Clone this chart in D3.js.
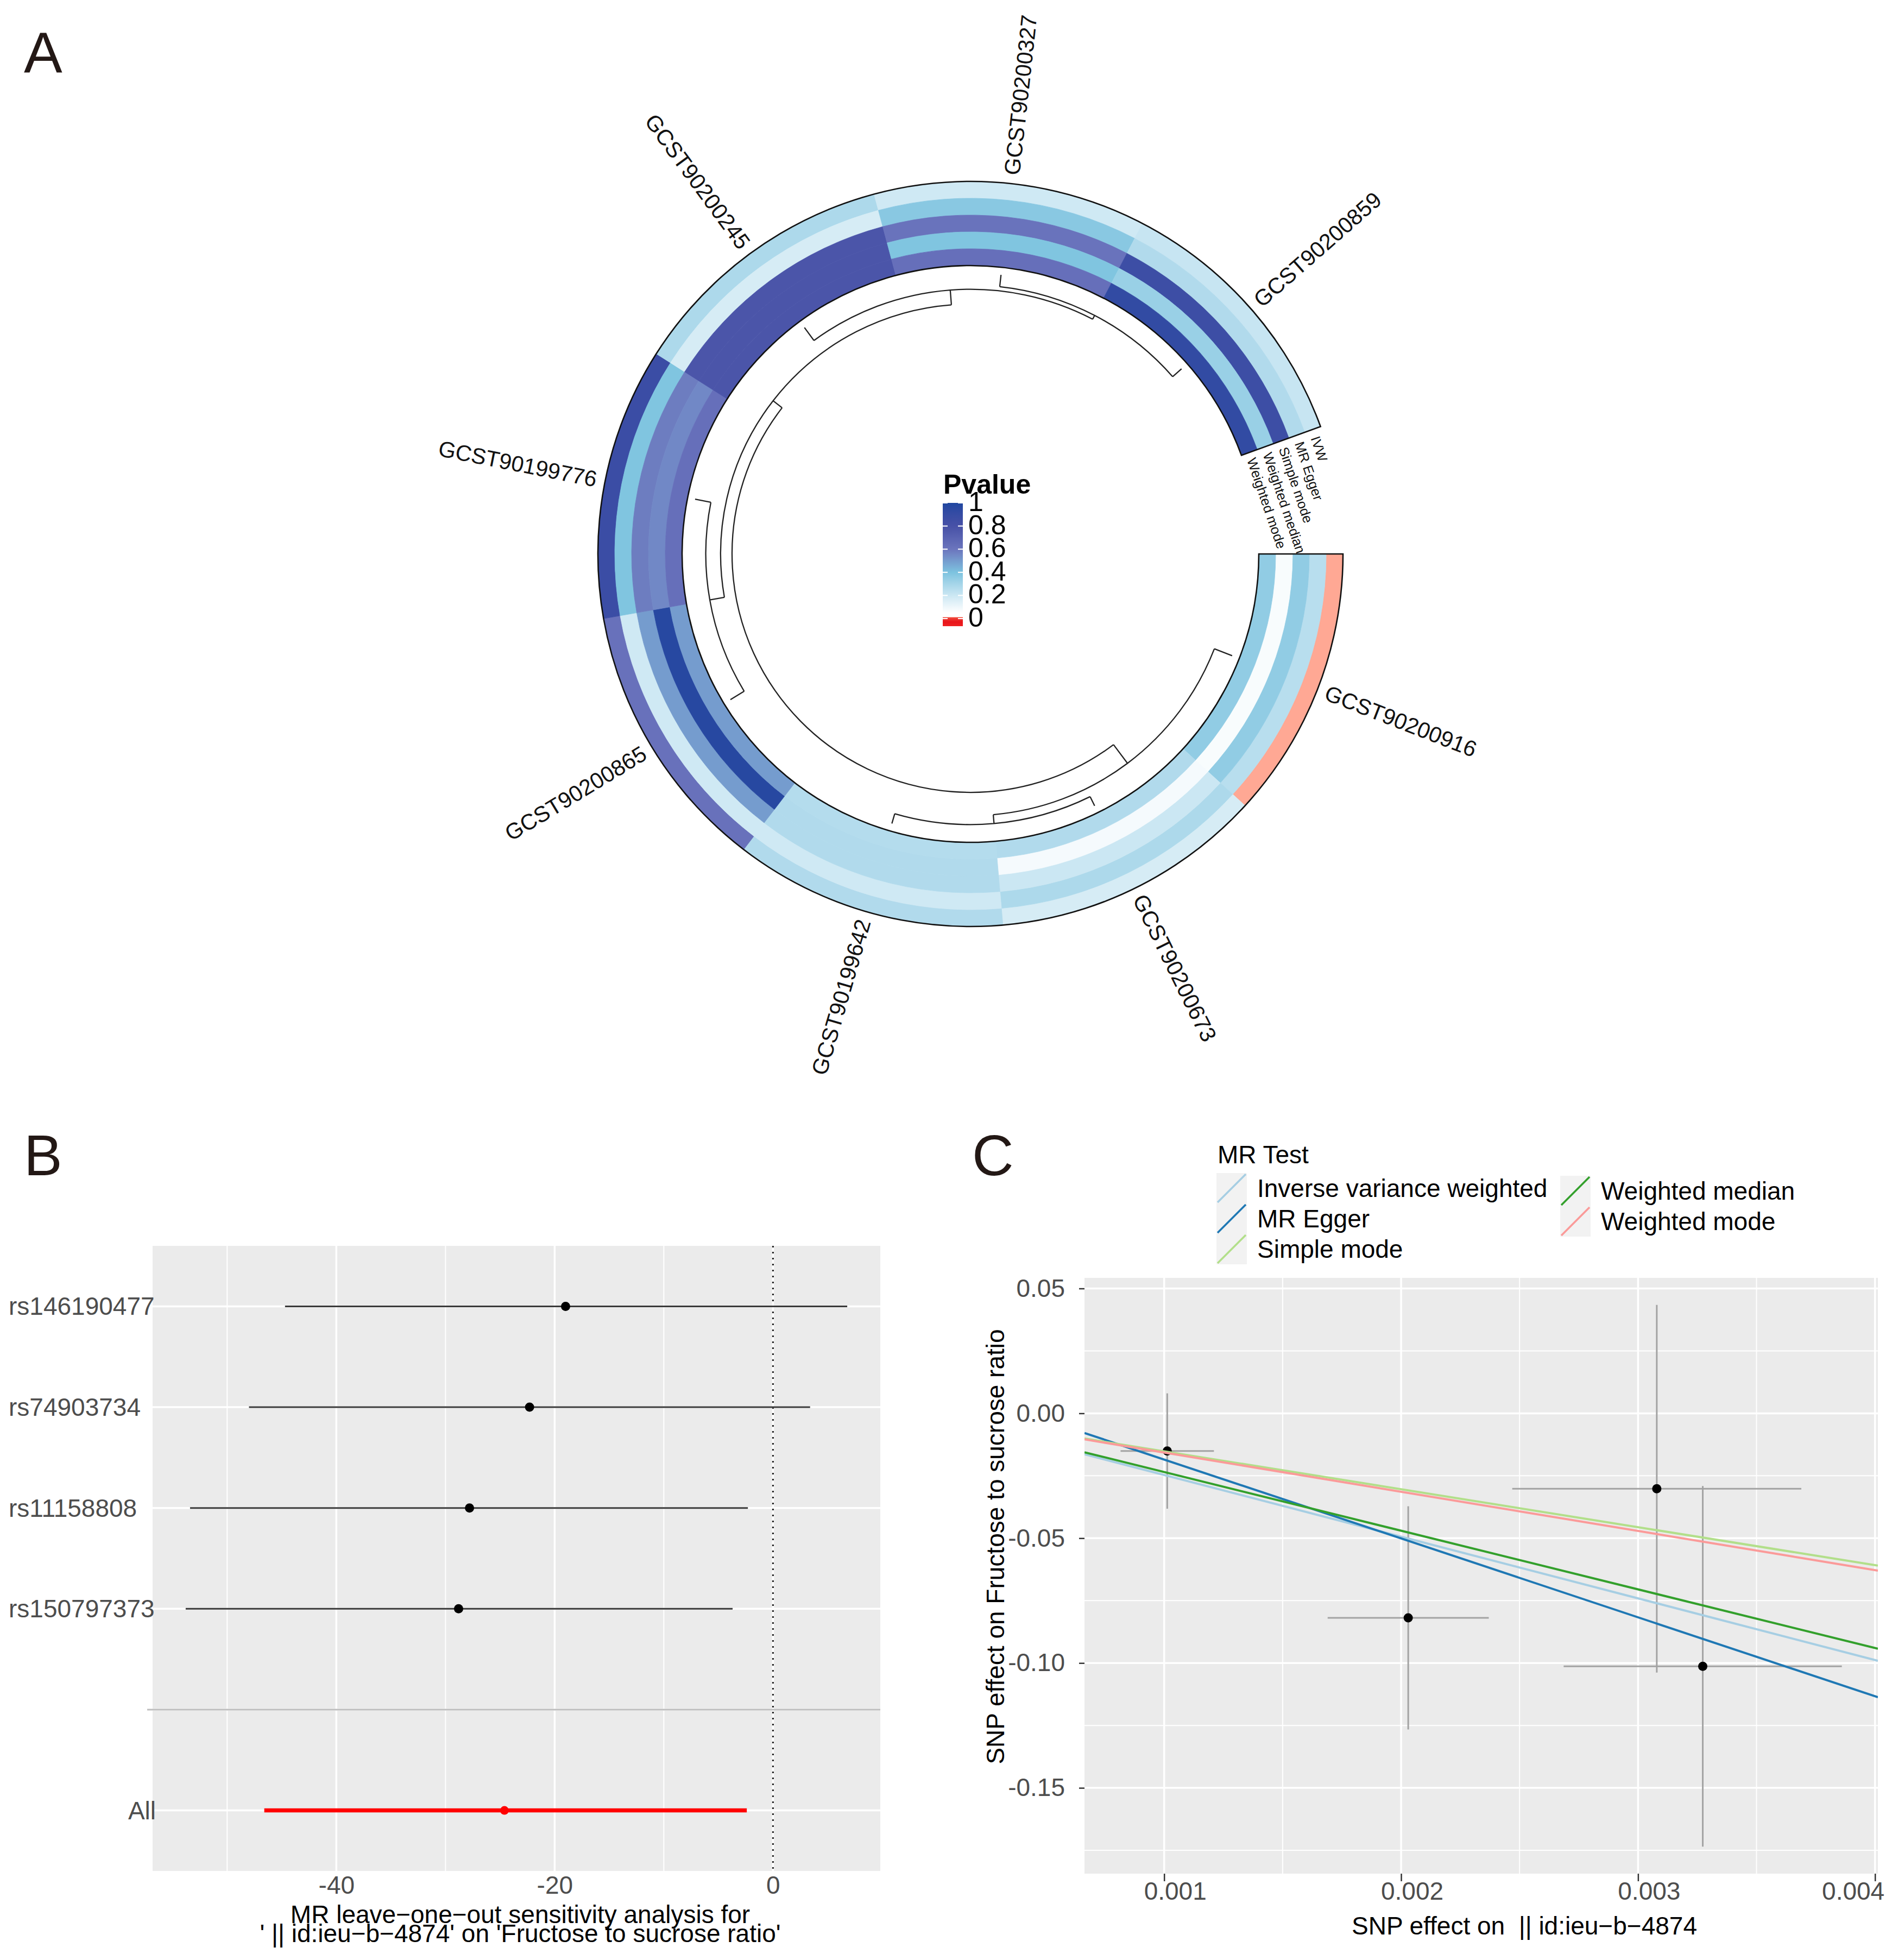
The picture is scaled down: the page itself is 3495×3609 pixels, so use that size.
<!DOCTYPE html>
<html>
<head>
<meta charset="utf-8">
<script src="https://cdn.jsdelivr.net/npm/d3@7"></script>
<style>
  html, body { margin: 0; padding: 0; background: #ffffff; }
  svg { display: block; }
  text { font-family: "Liberation Sans", Arial, Helvetica, sans-serif; }
</style>
</head>
<body>
<svg id="fig" width="3495" height="3609"></svg>
<script>
// ======================= DATA =======================
// Panel A : circular heatmap of MR p-values
const gwasIds  = ["GCST90200916","GCST90200673","GCST90199642","GCST90200865",
                  "GCST90199776","GCST90200245","GCST90200327","GCST90200859"];
const methods  = ["IVW","MR Egger","Simple mode","Weighted median","Weighted mode"];
const pIVW     = [0.027, 0.17, 0.27, 0.62, 0.87, 0.28, 0.19, 0.21];
const pEgger   = [0.25, 0.28, 0.19, 0.19, 0.39, 0.17, 0.37, 0.27];
const pSimple  = [0.35, 0.20, 0.27, 0.50, 0.58, 0.78, 0.61, 0.86];
const pWMedian = [0.07, 0.08, 0.27, 0.97, 0.55, 0.78, 0.39, 0.33];
const pWMode   = [0.35, 0.27, 0.26, 0.50, 0.63, 0.78, 0.63, 0.92];
// hclust-style merge table (negative = leaf index in gwasIds, 1-based; positive = earlier merge row)
const dendroMerge  = [[-2,-3],[-7,-8],[-6,2],[-4,-5],[-1,1],[4,3],[5,6]];
const dendroHeight = [0.24, 0.28, 0.38, 0.38, 0.45, 0.73, 1.00];
const pLegendBreaks = [0, 0.2, 0.4, 0.6, 0.8, 1];

// Panel B : leave-one-out
const looSNP = ["rs146190477","rs74903734","rs11158808","rs150797373","","All"];
const looEst = [-19.0, -22.3, -27.8, -28.8, null, -24.6];
const looLow = [-44.7, -48.0, -53.4, -53.8, null, -46.6];
const looUp  = [  6.8,   3.4,  -2.3,  -3.7, null,  -2.4];
const looTicks = [-40, -20, 0];
const looMinor = [-50, -30, -10];

// Panel C : scatter plot
const snpBetaExp = [0.001013, 0.00203, 0.003079, 0.003273];
const snpSeExp   = [0.000197, 0.00034, 0.00061, 0.000587];
const snpBetaOut = [-0.0151, -0.0819, -0.0302, -0.1013];
const snpSeOut   = [0.0231, 0.0447, 0.0736, 0.0722];
const mrMethods   = ["Inverse variance weighted","MR Egger","Simple mode","Weighted median","Weighted mode"];
const mrSlope     = [-24.7, -31.6, -15.2, -23.5, -15.7];
const mrIntercept = [0, 0.0131, 0, 0, 0];
const scXTicks = [0.001, 0.002, 0.003, 0.004];
const scXMinor = [0.0015, 0.0025, 0.0035];
const scYTicks = [0.05, 0.00, -0.05, -0.10, -0.15];
const scYMinor = [0.025, -0.025, -0.075, -0.125, -0.175];

// ======================= DRAW =======================
const svg = d3.select("#fig");
svg.append("rect").attr("width", 3495).attr("height", 3609).attr("fill", "#ffffff");
const FONT = "\"Liberation Sans\", Arial, Helvetica, sans-serif";
const hyph = f => d => f(d).replace("\u2212", "-");

// panel letters
[["A", 44, 133], ["B", 44, 2164], ["C", 1790, 2164]].forEach(([t, x, y]) => {
  svg.append("text").attr("x", x).attr("y", y).attr("font-size", 106)
     .attr("fill", "#231815").text(t);
});

// ---------------- Panel A ----------------
(function panelA() {
  const cx = 1787, cy = 1020;
  const g = svg.append("g").attr("transform", `translate(${cx},${cy})`);
  const rad = d => d * Math.PI / 180;

  const pMatrix = { "IVW": pIVW, "MR Egger": pEgger, "Simple mode": pSimple,
                    "Weighted median": pWMedian, "Weighted mode": pWMode };

  const pColor = d3.scaleLinear()
    .domain([0, 0.05, 0.2, 0.4, 0.6, 0.8, 1])
    .range(["#ee2222", "#ffffff", "#cbe7f3", "#7cc3df", "#6b75bd", "#4751a7", "#1f47a0"])
    .interpolate(d3.interpolateLab).clamp(true);

  // sector (angle, degrees clockwise from 3 o'clock) and ring (radius) scales
  const sector = d3.scaleBand().domain(gwasIds).range([0, 340]);
  const ring = d3.scaleBand().domain(methods).range([686, 531]);
  const arc = d3.arc();

  const cells = [];
  methods.forEach(m => gwasIds.forEach((id, i) => cells.push({ m, id, p: pMatrix[m][i] })));
  g.selectAll("path.cell").data(cells).enter().append("path")
    .attr("class", "cell")
    .attr("d", d => arc({
      innerRadius: ring(d.m), outerRadius: ring(d.m) + ring.bandwidth(),
      startAngle: rad(sector(d.id) + 90), endAngle: rad(sector(d.id) + sector.bandwidth() + 90)
    }))
    .attr("fill", d => pColor(d.p))
    .attr("stroke", d => pColor(d.p)).attr("stroke-width", 0.8);

  // outline of the whole track
  g.append("path")
    .attr("d", arc({ innerRadius: 531, outerRadius: 686, startAngle: rad(90), endAngle: rad(430) }))
    .attr("fill", "none").attr("stroke", "#111").attr("stroke-width", 2.6);

  // sector labels
  gwasIds.forEach(id => {
    const a = sector(id) + sector.bandwidth() / 2;
    const r = 702;
    const x = r * Math.cos(rad(a)), y = r * Math.sin(rad(a));
    const right = Math.cos(rad(a)) >= 0;
    g.append("text")
      .attr("transform", `translate(${x},${y}) rotate(${right ? a : a + 180})`)
      .attr("text-anchor", right ? "start" : "end")
      .attr("dominant-baseline", "central")
      .attr("font-size", 41).attr("fill", "#111").text(id);
  });

  // track (method) labels at the end of the circle
  methods.forEach(m => {
    const r = ring(m) + ring.bandwidth() / 2;
    const a = 341.2;
    const x = r * Math.cos(rad(a)), y = r * Math.sin(rad(a));
    g.append("text")
      .attr("transform", `translate(${x},${y}) rotate(${a + 90})`)
      .attr("text-anchor", "start").attr("dominant-baseline", "central")
      .attr("font-size", 25).attr("fill", "#111").text(m);
  });

  // dendrogram
  const rH = d3.scaleLinear().domain([0, 1]).range([517, 439]);
  const nodes = [];
  const ref = v => v < 0
    ? { angle: sector(gwasIds[-v - 1]) + sector.bandwidth() / 2, h: 0 }
    : nodes[v - 1];
  dendroMerge.forEach((mg, k) => {
    const a = ref(mg[0]), b = ref(mg[1]);
    nodes.push({ angle: (a.angle + b.angle) / 2, h: dendroHeight[k], kids: [a, b] });
  });
  const dp = d3.path();
  nodes.forEach(n => {
    const r = rH(n.h);
    const a0 = Math.min(n.kids[0].angle, n.kids[1].angle);
    const a1 = Math.max(n.kids[0].angle, n.kids[1].angle);
    dp.moveTo(r * Math.cos(rad(a0)), r * Math.sin(rad(a0)));
    dp.arc(0, 0, r, rad(a0), rad(a1), false);
    n.kids.forEach(k => {
      const rk = rH(k.h);
      dp.moveTo(rk * Math.cos(rad(k.angle)), rk * Math.sin(rad(k.angle)));
      dp.lineTo(r * Math.cos(rad(k.angle)), r * Math.sin(rad(k.angle)));
    });
  });
  g.append("path").attr("d", dp.toString()).attr("fill", "none")
    .attr("stroke", "#222").attr("stroke-width", 2.3);

  // legend
  const lg = svg.append("g");
  lg.append("text").attr("x", 1737).attr("y", 909).attr("font-size", 50)
    .attr("font-weight", "bold").attr("fill", "#000").text("Pvalue");
  const ly = d3.scaleLinear().domain([0, 1]).range([1139, 926]);
  const barTop = 926, barBot = 1153, barX = 1736, barW = 37;
  const defs = svg.append("defs");
  const grad = defs.append("linearGradient").attr("id", "pgrad")
    .attr("x1", 0).attr("y1", 0).attr("x2", 0).attr("y2", 1);
  const off = y => (y - barTop) / (barBot - barTop);
  d3.range(1, 0.049, -0.05).forEach(p => {
    grad.append("stop").attr("offset", off(ly(p))).attr("stop-color", pColor(p));
  });
  grad.append("stop").attr("offset", off(1136)).attr("stop-color", "#ffffff");
  grad.append("stop").attr("offset", off(1137)).attr("stop-color", "#f04a3c");
  grad.append("stop").attr("offset", off(1145)).attr("stop-color", "#e8141a");
  grad.append("stop").attr("offset", 1).attr("stop-color", "#ee2222");
  lg.append("rect").attr("x", barX).attr("y", barTop).attr("width", barW)
    .attr("height", barBot - barTop).attr("fill", "url(#pgrad)");
  pLegendBreaks.forEach(p => {
    const y = ly(p);
    lg.append("line").attr("x1", barX).attr("x2", barX + 9).attr("y1", y).attr("y2", y)
      .attr("stroke", "#fff").attr("stroke-width", 2);
    lg.append("line").attr("x1", barX + barW - 9).attr("x2", barX + barW).attr("y1", y).attr("y2", y)
      .attr("stroke", "#fff").attr("stroke-width", 2);
    lg.append("text").attr("x", 1783).attr("y", y - 2).attr("dominant-baseline", "central")
      .attr("font-size", 50).attr("fill", "#000").text(d3.format("~g")(p));
  });
})();

// ---------------- Panel B ----------------
(function panelB() {
  const L = 281, R = 1621, T = 2294, B = 3445;
  const vals = [...looLow, ...looUp].filter(v => v != null);
  const [mn, mx] = d3.extent(vals);
  const pad = (mx - mn) * 0.05;
  const x = d3.scaleLinear().domain([mn - pad, mx + pad]).range([L, R]);
  const y = d3.scalePoint().domain(looSNP).range([T, B]).padding(0.6);
  const g = svg.append("g");

  g.append("rect").attr("x", L).attr("y", T).attr("width", R - L).attr("height", B - T).attr("fill", "#ebebeb");
  looMinor.forEach(v => g.append("line").attr("x1", x(v)).attr("x2", x(v)).attr("y1", T).attr("y2", B)
    .attr("stroke", "#fff").attr("stroke-width", 2));
  looTicks.forEach(v => g.append("line").attr("x1", x(v)).attr("x2", x(v)).attr("y1", T).attr("y2", B)
    .attr("stroke", "#fff").attr("stroke-width", 3.5));
  looSNP.forEach(s => g.append("line").attr("x1", L).attr("x2", R).attr("y1", y(s)).attr("y2", y(s))
    .attr("stroke", "#fff").attr("stroke-width", 3.5));
  // separator at empty level
  g.append("line").attr("x1", L - 10).attr("x2", R).attr("y1", y("")).attr("y2", y(""))
    .attr("stroke", "#bebebe").attr("stroke-width", 3);
  // vertical dotted line at 0
  g.append("line").attr("x1", x(0)).attr("x2", x(0)).attr("y1", T).attr("y2", B)
    .attr("stroke", "#222").attr("stroke-width", 3).attr("stroke-dasharray", "3,8");

  const rows = looSNP.map((s, i) => ({ s, est: looEst[i], lo: looLow[i], up: looUp[i] }))
    .filter(d => d.est != null);
  g.selectAll("line.ci").data(rows).enter().append("line")
    .attr("x1", d => x(d.lo)).attr("x2", d => x(d.up))
    .attr("y1", d => y(d.s)).attr("y2", d => y(d.s))
    .attr("stroke", d => d.s === "All" ? "#ff0000" : "#3a3a3a")
    .attr("stroke-width", d => d.s === "All" ? 7.5 : 3);
  g.selectAll("circle.pt").data(rows).enter().append("circle")
    .attr("cx", d => x(d.est)).attr("cy", d => y(d.s))
    .attr("r", d => d.s === "All" ? 8 : 8.5)
    .attr("fill", d => d.s === "All" ? "#ff0000" : "#000");

  // y labels (SNP names left-aligned, "All" right-aligned as in the figure)
  looSNP.forEach(s => {
    if (s === "") return;
    const isAll = s === "All";
    g.append("text").attr("x", isAll ? 287 : 16).attr("y", y(s))
      .attr("text-anchor", isAll ? "end" : "start")
      .attr("dominant-baseline", "central").attr("font-size", 46).attr("fill", "#4d4d4d").text(s);
  });
  // x axis
  const ax = g.append("g").attr("transform", `translate(0,${B})`)
    .call(d3.axisBottom(x).tickValues(looTicks).tickSize(0).tickPadding(9).tickFormat(hyph(d3.format("d"))));
  ax.select(".domain").remove();
  ax.selectAll("text").attr("font-size", 46).attr("fill", "#4d4d4d").attr("font-family", FONT);

  g.append("text").attr("x", 958).attr("y", 3541).attr("text-anchor", "middle")
    .attr("font-size", 46).attr("fill", "#000").text("MR leave\u2212one\u2212out sensitivity analysis for");
  g.append("text").attr("x", 958).attr("y", 3576).attr("text-anchor", "middle")
    .attr("font-size", 46).attr("fill", "#000")
    .text("' || id:ieu\u2212b\u22124874' on 'Fructose to sucrose ratio'");
})();

// ---------------- Panel C ----------------
(function panelC() {
  const L = 1997, R = 3458, T = 2353, B = 3450;
  const xv = [...snpBetaExp.map((v, i) => v - snpSeExp[i]), ...snpBetaExp.map((v, i) => v + snpSeExp[i])];
  const yv = [...snpBetaOut.map((v, i) => v - snpSeOut[i]), ...snpBetaOut.map((v, i) => v + snpSeOut[i])];
  const ex = d3.extent(xv), ey = d3.extent(yv);
  const px = (ex[1] - ex[0]) * 0.05, py = (ey[1] - ey[0]) * 0.05;
  const x = d3.scaleLinear().domain([ex[0] - px, ex[1] + px]).range([L, R]);
  const y = d3.scaleLinear().domain([ey[0] - py, ey[1] + py]).range([B, T]);
  const g = svg.append("g");
  const mrColors = ["#a6cee3", "#1f78b4", "#b2df8a", "#33a02c", "#fb9a99"];

  g.append("rect").attr("x", L).attr("y", T).attr("width", R - L).attr("height", B - T).attr("fill", "#ebebeb");
  scXMinor.forEach(v => g.append("line").attr("x1", x(v)).attr("x2", x(v)).attr("y1", T).attr("y2", B)
    .attr("stroke", "#fff").attr("stroke-width", 2));
  scYMinor.forEach(v => { if (y(v) > T && y(v) < B) g.append("line").attr("x1", L).attr("x2", R)
    .attr("y1", y(v)).attr("y2", y(v)).attr("stroke", "#fff").attr("stroke-width", 2); });
  scXTicks.forEach(v => g.append("line").attr("x1", x(v)).attr("x2", x(v)).attr("y1", T).attr("y2", B)
    .attr("stroke", "#fff").attr("stroke-width", 3.5));
  scYTicks.forEach(v => g.append("line").attr("x1", L).attr("x2", R).attr("y1", y(v)).attr("y2", y(v))
    .attr("stroke", "#fff").attr("stroke-width", 3.5));

  const defs = svg.select("defs");
  defs.append("clipPath").attr("id", "clipC").append("rect")
    .attr("x", L).attr("y", T).attr("width", R - L).attr("height", B - T);

  const pts = snpBetaExp.map((v, i) => ({ bx: v, sx: snpSeExp[i], by: snpBetaOut[i], sy: snpSeOut[i] }));
  g.selectAll("line.ev").data(pts).enter().append("line")
    .attr("x1", d => x(d.bx)).attr("x2", d => x(d.bx))
    .attr("y1", d => y(d.by - d.sy)).attr("y2", d => y(d.by + d.sy))
    .attr("stroke", "#a3a3a3").attr("stroke-width", 3);
  g.selectAll("line.eh").data(pts).enter().append("line")
    .attr("x1", d => x(d.bx - d.sx)).attr("x2", d => x(d.bx + d.sx))
    .attr("y1", d => y(d.by)).attr("y2", d => y(d.by))
    .attr("stroke", "#a3a3a3").attr("stroke-width", 3);
  g.selectAll("circle.pt").data(pts).enter().append("circle")
    .attr("cx", d => x(d.bx)).attr("cy", d => y(d.by)).attr("r", 8.5).attr("fill", "#000");

  const lg = g.append("g").attr("clip-path", "url(#clipC)");
  const [x0, x1] = x.domain();
  mrMethods.forEach((m, i) => {
    lg.append("line")
      .attr("x1", x(x0)).attr("y1", y(mrIntercept[i] + mrSlope[i] * x0))
      .attr("x2", x(x1)).attr("y2", y(mrIntercept[i] + mrSlope[i] * x1))
      .attr("stroke", mrColors[i]).attr("stroke-width", 4);
  });

  // axes
  const ax = g.append("g").attr("transform", `translate(0,${B})`)
    .call(d3.axisBottom(x).tickValues(scXTicks).tickSize(14).tickPadding(1).tickFormat(d3.format(".3f")));
  ax.select(".domain").remove();
  ax.selectAll("line").attr("stroke", "#333").attr("stroke-width", 2.5);
  ax.selectAll("text").attr("font-size", 46).attr("fill", "#4d4d4d").attr("font-family", FONT)
    .attr("dx", 20);
  ax.selectAll("text").filter(d => d === 0.004).attr("text-anchor", "end").attr("dx", 17);

  const ay = g.append("g").attr("transform", `translate(${L},0)`)
    .call(d3.axisLeft(y).tickValues(scYTicks).tickSize(10).tickPadding(26).tickFormat(hyph(d3.format(".2f"))));
  ay.select(".domain").remove();
  ay.selectAll("line").attr("stroke", "#333").attr("stroke-width", 2.5);
  ay.selectAll("text").attr("font-size", 46).attr("fill", "#4d4d4d").attr("font-family", FONT);

  g.append("text").attr("transform", "translate(1849,2848) rotate(-90)").attr("text-anchor", "middle")
    .attr("font-size", 46).attr("fill", "#000").text("SNP effect on Fructose to sucrose ratio");
  g.append("text").attr("x", 2807).attr("y", 3562).attr("text-anchor", "middle")
    .attr("font-size", 46).attr("fill", "#000").style("white-space", "pre")
    .text("SNP effect on  || id:ieu\u2212b\u22124874");

  // legend
  g.append("text").attr("x", 2242).attr("y", 2142).attr("font-size", 46).attr("fill", "#000").text("MR Test");
  const legPos = [[2240, 2160], [2240, 2216], [2240, 2272], [2873, 2165], [2873, 2221]];
  mrMethods.forEach((name, k) => {
    const [lx, ly] = legPos[k];
    g.append("rect").attr("x", lx).attr("y", ly).attr("width", 56).attr("height", 56).attr("fill", "#f2f2f2");
    g.append("line").attr("x1", lx + 2).attr("y1", ly + 54).attr("x2", lx + 54).attr("y2", ly + 2)
      .attr("stroke", mrColors[k]).attr("stroke-width", 3.5);
    g.append("text").attr("x", lx + 75).attr("y", ly + 28).attr("dominant-baseline", "central")
      .attr("font-size", 46).attr("fill", "#000").text(name);
  });
})();
</script>
</body>
</html>
